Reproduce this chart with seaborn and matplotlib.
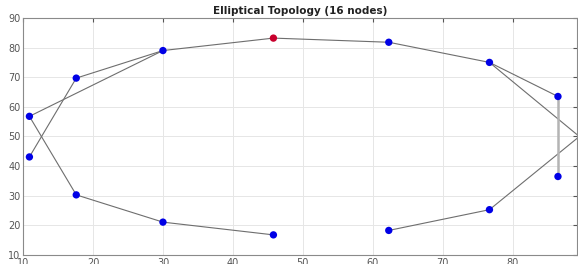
import pandas as pd
import seaborn as sns
import matplotlib.pyplot as plt

# node positions (two of them fall just outside the right edge)
node_x = [93.1, 86.5, 76.7, 62.3, 45.8, 30.0, 17.6, 10.9,
          10.9, 17.6, 30.0, 45.8, 62.3, 76.7, 86.5, 93.1]
node_y = [56.8, 63.5, 75.0, 81.8, 83.2, 79.0, 69.7, 56.8,
          43.1, 30.3, 21.1, 16.8, 18.3, 25.3, 36.5, 43.1]
node_kind = ["normal"] * 16
node_kind[4] = "source"

# links between nodes (index pairs)
edges = [(1, 2), (2, 3), (3, 4), (4, 5), (5, 6), (5, 7), (6, 8), (7, 9),
         (9, 10), (10, 11), (12, 13), (13, 0), (2, 15)]
thick_edges = [(1, 14)]

nodes = pd.DataFrame({"x": node_x, "y": node_y, "kind": node_kind})

sns.set_style("whitegrid")
fig = plt.figure(figsize=(5.78, 2.64), dpi=100)
ax = fig.add_axes([0.04, 0.034, 0.958, 0.898])

for a, b in edges:
    ax.plot([node_x[a], node_x[b]], [node_y[a], node_y[b]], color="#6e6e6e", lw=0.8, zorder=2)
for a, b in thick_edges:
    ax.plot([node_x[a], node_x[b]], [node_y[a], node_y[b]], color="#b4b4b4", lw=1.8, zorder=2)

sns.scatterplot(data=nodes, x="x", y="y", hue="kind", palette={"normal": "#0000e6", "source": "#c8002d"},
                s=28, edgecolor="none", legend=False, ax=ax, zorder=3)

ax.set_xlim(10, 89.2)
ax.set_ylim(10, 90)
ax.set_xticks(range(10, 90, 10))
ax.set_yticks(range(10, 91, 10))
ax.set_xlabel("")
ax.set_ylabel("")
ax.set_title("Elliptical Topology (16 nodes)", fontsize=7.5, fontweight="bold", color="#222222", pad=3)
ax.grid(True, color="#e6e6e6", lw=0.7)
ax.tick_params(direction="in", length=3, labelsize=7, colors="#555555", top=True, right=True, pad=2)
for s in ax.spines.values():
    s.set_color("#8a8a8a")
    s.set_linewidth(0.8)

fig.savefig("out.png", dpi=100)
